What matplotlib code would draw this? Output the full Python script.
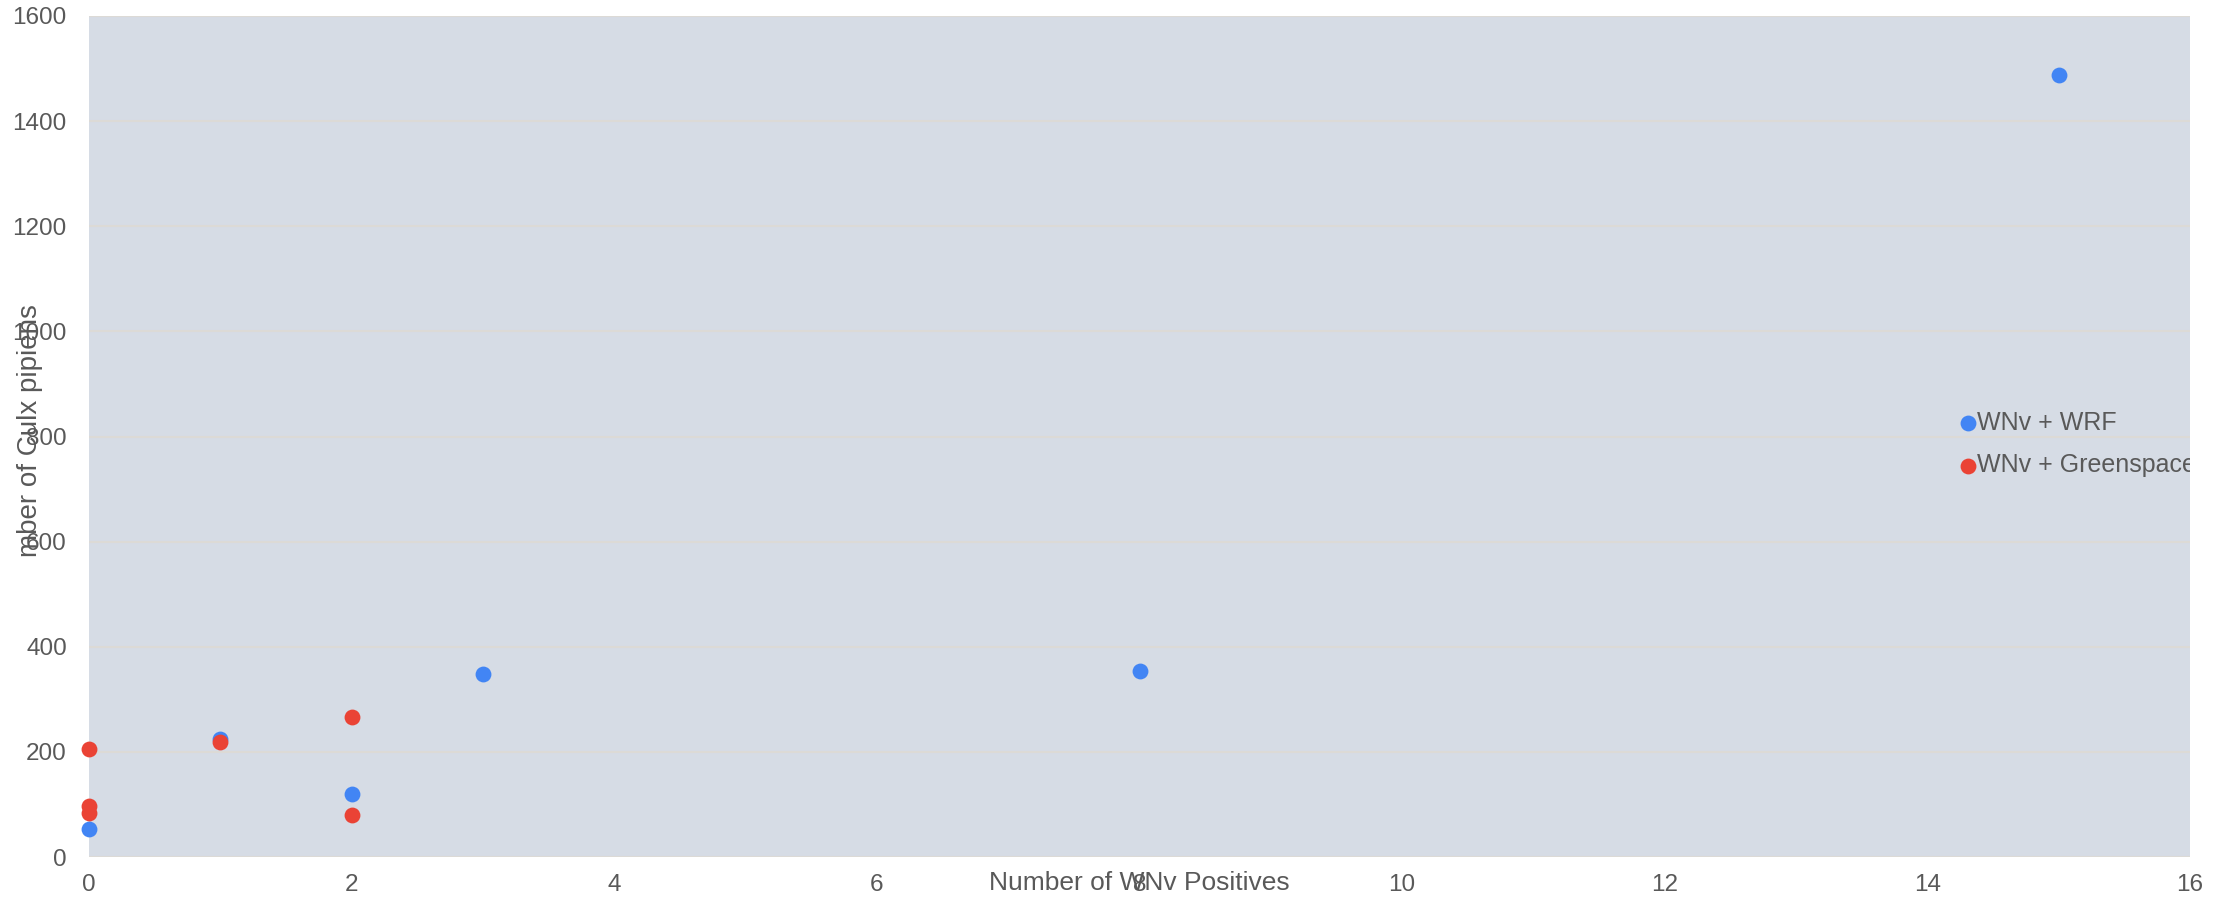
import matplotlib
matplotlib.use("Agg")
import matplotlib.pyplot as plt

plt.rcParams['font.family'] = ['Liberation Sans', 'DejaVu Sans']

# Data
wrf_x = [0, 1, 2, 3, 8, 15]
wrf_y = [53, 224, 120, 349, 354, 1488]
green_x = [0, 0, 0, 1, 2, 2]
green_y = [206, 97, 83, 219, 267, 80]
series_labels = ["WNv + WRF", "WNv + Greenspace"]
x_ticks = [0, 2, 4, 6, 8, 10, 12, 14, 16]
y_ticks = [0, 200, 400, 600, 800, 1000, 1200, 1400, 1600]
x_label = "Number of WNv Positives"
y_label = "mber of Culx pipiens"

W, H = 2234, 901
fig = plt.figure(figsize=(W / 100, H / 100), dpi=100)
ax = fig.add_axes([89 / W, (H - 857) / H, 2101 / W, 841 / H])
ax.set_facecolor('#d6dce5')

text_color = '#595959'
ax.scatter(wrf_x, wrf_y, s=130, color='#4285f4', linewidths=0, zorder=3,
           clip_on=False, label=series_labels[0])
ax.scatter(green_x, green_y, s=130, color='#ea4335', linewidths=0, zorder=4,
           clip_on=False, label=series_labels[1])

ax.set_xlim(0, 16)
ax.set_ylim(0, 1600)
ax.set_xticks(x_ticks)
ax.set_yticks(y_ticks)
ax.grid(axis='y', color='#dcdad6', linewidth=1.5, zorder=1)
ax.grid(axis='x', visible=False)
ax.set_axisbelow(True)
for sp in ax.spines.values():
    sp.set_visible(False)
ax.tick_params(axis='both', length=0, labelsize=17.5, labelcolor=text_color)
ax.tick_params(axis='x', pad=12.5)
ax.tick_params(axis='y', pad=16)

ax.set_xlabel(x_label, fontsize=19, color=text_color)
ax.xaxis.label.set_va('center')
ax.xaxis.set_label_coords(0.5, (857 - 883) / 841)
ax.set_ylabel(y_label, fontsize=20, color=text_color)
ax.yaxis.label.set_va('center')
ax.yaxis.label.set_ha('center')
ax.yaxis.set_label_coords((30 - 89) / 2101, (857 - 431) / 841)

leg = ax.legend(loc='center left', bbox_to_anchor=(1962 / W, 1 - 444 / H),
                bbox_transform=fig.transFigure, frameon=False, fontsize=18,
                handlelength=0.5, handletextpad=0.1, labelspacing=0.75,
                borderpad=0, borderaxespad=0, markerscale=1.0)
for t in leg.get_texts():
    t.set_color(text_color)
    t.set_clip_box(ax.bbox)
    t.set_clip_on(True)

fig.savefig("out.png", dpi=100)
